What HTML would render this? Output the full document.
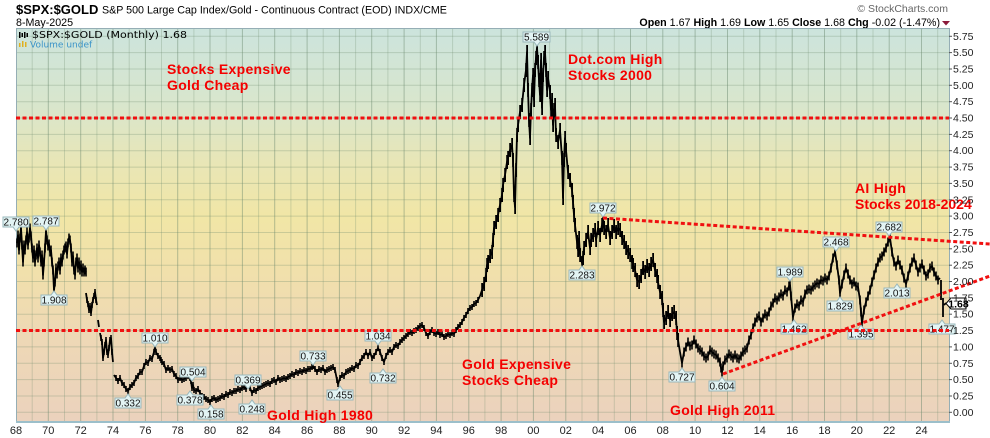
<!DOCTYPE html>
<html>
<head>
<meta charset="utf-8">
<style>
html,body{margin:0;padding:0;background:#fff;}
svg{display:block;}
</style>
</head>
<body>
<svg width="990" height="438" viewBox="0 0 990 438" xmlns="http://www.w3.org/2000/svg">
<defs>
<linearGradient id="bg" x1="0" y1="28" x2="0" y2="422" gradientUnits="userSpaceOnUse">
<stop offset="0" stop-color="#cce4dd"/>
<stop offset="0.2" stop-color="#d9e6cc"/>
<stop offset="0.35" stop-color="#e9e6b5"/>
<stop offset="0.48" stop-color="#f1e6a6"/>
<stop offset="0.62" stop-color="#f1e0ab"/>
<stop offset="0.78" stop-color="#eed8b5"/>
<stop offset="1" stop-color="#ebd2bd"/>
</linearGradient>
<marker id="bs" markerUnits="userSpaceOnUse" markerWidth="2" markerHeight="6" refX="0.8" refY="3" orient="0"><rect x="0" y="0" width="1.6" height="6" fill="#000"/></marker>
<marker id="bm" markerUnits="userSpaceOnUse" markerWidth="2" markerHeight="9" refX="0.8" refY="4.5" orient="0"><rect x="0" y="0" width="1.6" height="9" fill="#000"/></marker>
<marker id="bb" markerUnits="userSpaceOnUse" markerWidth="2" markerHeight="14" refX="0.8" refY="7" orient="0"><rect x="0" y="0" width="1.8" height="14" fill="#000"/></marker>
</defs>
<rect width="990" height="438" fill="#fff"/>

<!-- header -->
<text x="16" y="14" font-family="Liberation Sans, sans-serif" font-weight="bold" font-size="13" fill="#000">$SPX:$GOLD</text>
<text x="102" y="13.5" font-family="Liberation Sans, sans-serif" font-size="10.7" fill="#000">S&amp;P 500 Large Cap Index/Gold - Continuous Contract (EOD) INDX/CME</text>
<text x="16" y="26" font-family="Liberation Sans, sans-serif" font-size="10.7" fill="#000">8-May-2025</text>
<text x="948" y="12" text-anchor="end" font-family="Liberation Sans, sans-serif" font-size="10.5" fill="#666">© StockCharts.com</text>
<text x="940" y="26" text-anchor="end" font-family="Liberation Sans, sans-serif" font-size="10.7" fill="#000"><tspan font-weight="bold">Open</tspan> 1.67  <tspan font-weight="bold">High</tspan> 1.69  <tspan font-weight="bold">Low</tspan> 1.65  <tspan font-weight="bold">Close</tspan> 1.68  <tspan font-weight="bold">Chg</tspan> -0.02 (-1.47%)</text>
<polygon points="942,21 950,21 946,25.5" fill="#8b1a3a"/>

<!-- plot background -->
<rect x="16" y="28" width="933" height="394" fill="url(#bg)"/>

<!-- vertical grid -->
<g stroke="rgba(110,140,110,0.28)" stroke-width="1">
<line x1="32.2" y1="28" x2="32.2" y2="422"/><line x1="64.5" y1="28" x2="64.5" y2="422"/><line x1="96.9" y1="28" x2="96.9" y2="422"/><line x1="129.2" y1="28" x2="129.2" y2="422"/><line x1="161.5" y1="28" x2="161.5" y2="422"/><line x1="193.9" y1="28" x2="193.9" y2="422"/><line x1="226.2" y1="28" x2="226.2" y2="422"/><line x1="258.6" y1="28" x2="258.6" y2="422"/><line x1="290.9" y1="28" x2="290.9" y2="422"/><line x1="323.2" y1="28" x2="323.2" y2="422"/><line x1="355.6" y1="28" x2="355.6" y2="422"/><line x1="387.9" y1="28" x2="387.9" y2="422"/><line x1="420.3" y1="28" x2="420.3" y2="422"/><line x1="452.6" y1="28" x2="452.6" y2="422"/><line x1="484.9" y1="28" x2="484.9" y2="422"/><line x1="517.3" y1="28" x2="517.3" y2="422"/><line x1="549.6" y1="28" x2="549.6" y2="422"/><line x1="582" y1="28" x2="582" y2="422"/><line x1="614.3" y1="28" x2="614.3" y2="422"/><line x1="646.6" y1="28" x2="646.6" y2="422"/><line x1="679" y1="28" x2="679" y2="422"/><line x1="711.3" y1="28" x2="711.3" y2="422"/><line x1="743.7" y1="28" x2="743.7" y2="422"/><line x1="776" y1="28" x2="776" y2="422"/><line x1="808.3" y1="28" x2="808.3" y2="422"/><line x1="840.7" y1="28" x2="840.7" y2="422"/><line x1="873" y1="28" x2="873" y2="422"/><line x1="905.4" y1="28" x2="905.4" y2="422"/><line x1="937.7" y1="28" x2="937.7" y2="422"/>
</g>
<g stroke="rgba(100,130,105,0.45)" stroke-width="1">
<line x1="48.3" y1="28" x2="48.3" y2="422"/><line x1="80.7" y1="28" x2="80.7" y2="422"/><line x1="113" y1="28" x2="113" y2="422"/><line x1="145.4" y1="28" x2="145.4" y2="422"/><line x1="177.7" y1="28" x2="177.7" y2="422"/><line x1="210" y1="28" x2="210" y2="422"/><line x1="242.4" y1="28" x2="242.4" y2="422"/><line x1="274.7" y1="28" x2="274.7" y2="422"/><line x1="307.1" y1="28" x2="307.1" y2="422"/><line x1="339.4" y1="28" x2="339.4" y2="422"/><line x1="371.7" y1="28" x2="371.7" y2="422"/><line x1="404.1" y1="28" x2="404.1" y2="422"/><line x1="436.4" y1="28" x2="436.4" y2="422"/><line x1="468.8" y1="28" x2="468.8" y2="422"/><line x1="501.1" y1="28" x2="501.1" y2="422"/><line x1="533.4" y1="28" x2="533.4" y2="422"/><line x1="565.8" y1="28" x2="565.8" y2="422"/><line x1="598.1" y1="28" x2="598.1" y2="422"/><line x1="630.5" y1="28" x2="630.5" y2="422"/><line x1="662.8" y1="28" x2="662.8" y2="422"/><line x1="695.1" y1="28" x2="695.1" y2="422"/><line x1="727.5" y1="28" x2="727.5" y2="422"/><line x1="759.8" y1="28" x2="759.8" y2="422"/><line x1="792.2" y1="28" x2="792.2" y2="422"/><line x1="824.5" y1="28" x2="824.5" y2="422"/><line x1="856.8" y1="28" x2="856.8" y2="422"/><line x1="889.2" y1="28" x2="889.2" y2="422"/><line x1="921.5" y1="28" x2="921.5" y2="422"/>
</g>
<!-- horizontal grid -->
<g stroke="rgba(110,140,110,0.30)" stroke-width="1">
<line x1="16" y1="412.3" x2="949" y2="412.3"/><line x1="16" y1="396" x2="949" y2="396"/><line x1="16" y1="379.6" x2="949" y2="379.6"/><line x1="16" y1="363.3" x2="949" y2="363.3"/><line x1="16" y1="346.9" x2="949" y2="346.9"/><line x1="16" y1="330.6" x2="949" y2="330.6"/><line x1="16" y1="314.2" x2="949" y2="314.2"/><line x1="16" y1="297.9" x2="949" y2="297.9"/><line x1="16" y1="281.5" x2="949" y2="281.5"/><line x1="16" y1="265.2" x2="949" y2="265.2"/><line x1="16" y1="248.8" x2="949" y2="248.8"/><line x1="16" y1="232.5" x2="949" y2="232.5"/><line x1="16" y1="216.1" x2="949" y2="216.1"/><line x1="16" y1="199.8" x2="949" y2="199.8"/><line x1="16" y1="183.4" x2="949" y2="183.4"/><line x1="16" y1="167.1" x2="949" y2="167.1"/><line x1="16" y1="150.7" x2="949" y2="150.7"/><line x1="16" y1="134.4" x2="949" y2="134.4"/><line x1="16" y1="118" x2="949" y2="118"/><line x1="16" y1="101.7" x2="949" y2="101.7"/><line x1="16" y1="85.3" x2="949" y2="85.3"/><line x1="16" y1="69" x2="949" y2="69"/><line x1="16" y1="52.6" x2="949" y2="52.6"/><line x1="16" y1="36.3" x2="949" y2="36.3"/>
</g>

<!-- frame -->
<line x1="16" y1="28.5" x2="949" y2="28.5" stroke="#95aeb5" stroke-width="1"/>
<line x1="16.5" y1="28" x2="16.5" y2="422" stroke="#95aeb5" stroke-width="1"/>
<line x1="949.5" y1="28" x2="949.5" y2="422" stroke="#95aeb5" stroke-width="1"/>
<line x1="16" y1="422" x2="950" y2="422" stroke="#9cbfca" stroke-width="2"/>

<!-- legend -->
<g fill="#000">
<rect x="19" y="32" width="1.5" height="6"/><rect x="21.5" y="33" width="1.5" height="4"/><rect x="24" y="32" width="1.5" height="6"/><rect x="26.5" y="33" width="1.5" height="4"/>
</g>
<text x="32" y="38" font-family="DejaVu Sans, sans-serif" font-size="10" fill="#000" textLength="155" lengthAdjust="spacingAndGlyphs">$SPX:$GOLD (Monthly) 1.68</text>
<g fill="#e0b020">
<rect x="19" y="43" width="1.5" height="4"/><rect x="22" y="41" width="1.5" height="6"/><rect x="25" y="42" width="1.5" height="5"/>
</g>
<text x="30" y="47.5" font-family="DejaVu Sans, sans-serif" font-size="9" fill="#3a93c8">Volume undef</text>

<!-- series -->
<g fill="none" stroke="#000" stroke-width="1.8" stroke-linejoin="round" stroke-linecap="butt">
<polyline marker-mid="url(#bm)" marker-start="url(#bm)" marker-end="url(#bm)" points="17,243 18,235 19,250 20,238 21,228 22,245 23,262 24,245 25,250 26,240 27,232 28,245 29,238 30,228 31,236 32,248 33,258 34,250 35,262 36,255 37,248 38,258 39,245 40,252 41,262 42,255 43,275 44,262 45,248 46,231 47,240 48,246 49,244 50,252 51,250 52,262 53,270 54,290 55,282 56,268 57,274 58,266 59,262 60,270 61,258 62,262 63,255 64,250 65,248 66,246 67,254 68,243 69,238 70,240 71,248 72,262 73,256 74,270 75,275 76,262 77,258 78,268 79,262 80,270 81,265 82,272 83,268 84,272 85,270 86,272"/>
<polyline marker-mid="url(#bs)" points="86,293 87,300 88,304 89,310 90,306 91,313 92,305 93,300 94,296 95,292 96,300 97,305"/>
<polyline points="98,320 99,327"/>
<polyline marker-mid="url(#bs)" points="100,333 101,338 102,342 103,358 104,352 105,345 106,340 107,352 108,355 109,348 110,340 111,338 112,352 113,362"/>
<polyline marker-mid="url(#bs)" points="114,375 116,378 118,381 120,378 122,383 124,385 126,389 128,391 130,387 132,385 134,383 136,378 138,376 140,372 142,372 144,366 146,362 148,363 150,358 152,359 154,352 155,347 156,352 158,356 160,358 161,360 162,362 164,364 166,370 168,368 170,370 172,369 174,374 176,376 178,380 180,378 182,380 184,379 186,378 188,376 190,378 191,381 192,388 193,385 194,390 196,391 198,389 200,393 202,396 204,397 206,399 208,400 210,402 212,399 214,398 216,400 218,399 220,398 222,396 224,397 226,394 228,395 230,392 232,393 234,391 236,391 238,389 240,390 242,388 244,387 246,389 248,385 250,388 252,393 254,390 256,391 258,388 260,387 262,386 264,385 266,384 268,383 270,384 272,381 274,380 276,382 278,378 280,380 282,379 284,378 286,379 288,377 290,376 292,374 294,375 296,372 298,373 300,371 302,372 304,370 306,371 308,369 310,369 312,367 313,366 315,369 317,372 319,369 321,370 323,368 325,372 327,370 329,369 331,368 333,367 335,370 337,380 338,384 340,378 342,375 344,376 346,372 348,371 350,370 352,368 354,369 356,365 358,366 360,362 362,358 364,356 366,352 368,356 370,352 372,358 374,356 376,352 378,348 380,352 382,358 384,362 386,356 388,352 390,350 392,352 394,347 396,345 398,346 400,342 402,340 404,338 406,336 408,334 410,332 412,333 414,331 416,330 418,328 420,326 422,325 424,328 426,333 428,336 430,332 432,330 434,333 436,334 438,332 440,335 442,334 444,337 446,336 448,334 450,335 452,333 454,334 456,330 458,327 460,325 462,322 464,318 466,315 468,311 470,308 472,307 474,304 476,303 478,300 480,296"/>
<polyline marker-mid="url(#bb)" points="480,296 482,290 484,284 486,275 487,265 488,262 490,256 492,252 493,240 494,228 496,222 498,215 500,205 502,195 503,185 505,175 507,162 508,158 510,150 512,145 513,160 514,195 515,207 516,170 517,135 518,125 520,112 522,105 524,85 526,70 527,52 528,90 529,120 530,138 531,110 532,90 533,75 534,100 535,70 536,58 537,48 538,62 539,80 540,95 541,60 542,108 543,75 544,58 545,52 546,70 547,90 548,78 550,92 551,110 552,100 553,125 554,110 555,105 556,135 558,142 560,130 562,158 563,198 564,160 565,138 566,150 568,172 570,180 572,190 573,202 574,215 575,225 577,242 578,250 579,238 580,255 582,263 583,258 584,248 586,240 588,232 590,248 591,240 593,235 595,230 596,240 598,228 600,235 602,225 603,218 604,228 606,232 608,225 610,238 612,232 614,226 616,232 618,228 620,230 622,238 624,242 626,248 628,252 630,255 632,262 633,265 635,270 637,280 639,282 641,276 643,268 645,272 647,266 649,270 651,264 653,260 655,270 657,276 658,282 660,292 662,298 663,310 664,322 666,318 668,312 670,320 672,314 674,312 676,318 677,333 678,340 680,352"/>
<polyline marker-mid="url(#bm)" points="680,352 682,363 684,352 686,347 688,342 690,346 692,345 694,340 696,344 698,348 700,350 702,352 704,356 706,358 708,356 710,350 712,352 714,354 716,355 718,358 720,362 721,368 722,372 723,366 725,360 727,358 729,354 731,356 733,358 735,355 737,358 739,359 741,356 743,352 745,350 747,348 749,340 751,335 753,328 755,322 757,318 759,316 761,322 763,318 765,314 767,316 769,312 771,306 773,303 775,298 777,300 779,297 781,294 783,296 785,290 787,292 789,286 790,285 791,296 793,317 795,308 797,304 799,306 801,300 803,302 805,294 807,290 809,289 811,290 813,287 815,285 817,283 819,284 821,280 823,281 825,278 827,280 829,276 831,268 833,258 835,252 837,265 839,280 840,293 842,284 844,275 846,268 848,274 850,280 852,284 854,282 856,286 858,287 860,300 861,312 862,323 864,310 866,302 868,296 870,290 872,282 874,275 876,268 878,262 880,258 882,256 884,252 886,248 888,242 890,238 892,252 894,262 896,266 898,260 900,265 902,270 904,278 906,284 908,276 910,268 912,262 914,258 916,265 918,272 920,268 922,264 924,270 926,276 928,274 930,268 932,266 934,272 936,276 938,280 940,278"/>
<polyline points="941,280 941,300"/>
<polyline points="943,298 943,317"/>
<polyline points="944,305 946,303"/>
</g>

<!-- value callouts -->
<g fill="#e3f4f4" stroke="#9ab8bc" stroke-width="1">
<path d="M3,217 h26 v10 H19 l-3,4 l-3,-4 H3 Z"/>
<path d="M33,216 h26 v10 H49 l-3,4 l-3,-4 H33 Z"/>
<path d="M41,295 H51 l3,-4 l3,4 H67 v10 H41 Z"/>
<path d="M142,333 h26 v10 H158 l-3,4 l-3,-4 H142 Z"/>
<path d="M115,398 H125 l3,-4 l3,4 H141 v10 H115 Z"/>
<path d="M180,367 h26 v10 H195 l-3,4 l-3,-4 H180 Z"/>
<path d="M177,395 H187 l3,-4 l3,4 H203 v10 H177 Z"/>
<path d="M198,409 H208 l3,-4 l3,4 H224 v10 H198 Z"/>
<path d="M235,375 h26 v10 H251 l-3,4 l-3,-4 H235 Z"/>
<path d="M239,404 H249 l3,-4 l3,4 H265 v10 H239 Z"/>
<path d="M300,351 h26 v10 H316 l-3,4 l-3,-4 H300 Z"/>
<path d="M327,390 H337 l3,-4 l3,4 H353 v10 H327 Z"/>
<path d="M365,331 h26 v10 H381 l-3,4 l-3,-4 H365 Z"/>
<path d="M370,373 H380 l3,-4 l3,4 H396 v10 H370 Z"/>
<path d="M523,32 h27 v10 H540 l-3,4 l-3,-4 H523 Z"/>
<path d="M590,203 h26 v10 H606 l-3,4 l-3,-4 H590 Z"/>
<path d="M569,270 H579 l3,-4 l3,4 H595 v10 H569 Z"/>
<path d="M669,372 H679 l3,-4 l3,4 H695 v10 H669 Z"/>
<path d="M709,381 H719 l3,-4 l3,4 H735 v10 H709 Z"/>
<path d="M777,267 h26 v10 H793 l-3,4 l-3,-4 H777 Z"/>
<path d="M781,324 H791 l3,-4 l3,4 H807 v10 H781 Z"/>
<path d="M823,237 h26 v10 H839 l-3,4 l-3,-4 H823 Z"/>
<path d="M827,301 H837 l3,-4 l3,4 H853 v10 H827 Z"/>
<path d="M848,329 H858 l3,-4 l3,4 H874 v10 H848 Z"/>
<path d="M876,222 h26 v10 H892 l-3,4 l-3,-4 H876 Z"/>
<path d="M884,288 H894 l3,-4 l3,4 H910 v10 H884 Z"/>
<path d="M929,324 H939 l3,-4 l3,4 H955 v10 H929 Z"/>
</g>
<g font-family="Liberation Sans, sans-serif" font-size="10" fill="#111" text-anchor="middle">
<text x="16" y="225.5">2.780</text>
<text x="46" y="224.5">2.787</text>
<text x="54" y="303.5">1.908</text>
<text x="155" y="341.5">1.010</text>
<text x="128" y="406.5">0.332</text>
<text x="193" y="375.5">0.504</text>
<text x="190" y="403.5">0.378</text>
<text x="211" y="417.5">0.158</text>
<text x="248" y="383.5">0.369</text>
<text x="252" y="412.5">0.248</text>
<text x="313" y="359.5">0.733</text>
<text x="340" y="398.5">0.455</text>
<text x="378" y="339.5">1.034</text>
<text x="383" y="381.5">0.732</text>
<text x="536.5" y="40.5">5.589</text>
<text x="603" y="211.5">2.972</text>
<text x="582" y="278.5">2.283</text>
<text x="682" y="380.5">0.727</text>
<text x="722" y="389.5">0.604</text>
<text x="790" y="275.5">1.989</text>
<text x="794" y="332.5">1.462</text>
<text x="836" y="245.5">2.468</text>
<text x="840" y="309.5">1.829</text>
<text x="861" y="337.5">1.395</text>
<text x="889" y="230.5">2.682</text>
<text x="897" y="296.5">2.013</text>
<text x="942" y="332.5">1.477</text>
</g>

<!-- red dotted lines -->
<g stroke="#f01010" stroke-width="3" stroke-dasharray="4 2.5" fill="none">
<line x1="16" y1="118" x2="949" y2="118"/>
<line x1="16" y1="330.5" x2="949" y2="330.5"/>
<line x1="603" y1="218" x2="990" y2="244"/>
<line x1="723" y1="374" x2="990" y2="276"/>
</g>

<!-- current price tag -->
<path d="M946,303.5 L951,298 H966 V309 H951 Z" fill="#fff" stroke="#000" stroke-width="1"/>
<text x="958.5" y="307.5" text-anchor="middle" font-family="Liberation Sans, sans-serif" font-weight="bold" font-size="10.5" fill="#000">1.68</text>

<!-- red annotations -->
<g font-family="Liberation Sans, sans-serif" font-weight="bold" font-size="14" fill="#f50000" letter-spacing="0.3">
<text x="167" y="74">Stocks Expensive</text>
<text x="167" y="90">Gold Cheap</text>
<text x="568" y="64">Dot.com High</text>
<text x="568" y="80">Stocks 2000</text>
<text x="855" y="193">AI High</text>
<text x="855" y="209" letter-spacing="0">Stocks 2018-2024</text>
<text x="462" y="369">Gold Expensive</text>
<text x="462" y="385">Stocks Cheap</text>
<text x="670" y="415">Gold High 2011</text>
<text x="267" y="420">Gold High 1980</text>
</g>

<!-- right axis -->
<g stroke="#555" stroke-width="1">
<line x1="949" y1="36.3" x2="952" y2="36.3"/><line x1="949" y1="52.6" x2="952" y2="52.6"/><line x1="949" y1="69" x2="952" y2="69"/><line x1="949" y1="85.3" x2="952" y2="85.3"/><line x1="949" y1="101.7" x2="952" y2="101.7"/><line x1="949" y1="118" x2="952" y2="118"/><line x1="949" y1="134.4" x2="952" y2="134.4"/><line x1="949" y1="150.7" x2="952" y2="150.7"/><line x1="949" y1="167.1" x2="952" y2="167.1"/><line x1="949" y1="183.4" x2="952" y2="183.4"/><line x1="949" y1="199.8" x2="952" y2="199.8"/><line x1="949" y1="216.1" x2="952" y2="216.1"/><line x1="949" y1="232.5" x2="952" y2="232.5"/><line x1="949" y1="248.8" x2="952" y2="248.8"/><line x1="949" y1="265.2" x2="952" y2="265.2"/><line x1="949" y1="281.5" x2="952" y2="281.5"/><line x1="949" y1="297.9" x2="952" y2="297.9"/><line x1="949" y1="314.2" x2="952" y2="314.2"/><line x1="949" y1="330.6" x2="952" y2="330.6"/><line x1="949" y1="346.9" x2="952" y2="346.9"/><line x1="949" y1="363.3" x2="952" y2="363.3"/><line x1="949" y1="379.6" x2="952" y2="379.6"/><line x1="949" y1="396" x2="952" y2="396"/><line x1="949" y1="412.3" x2="952" y2="412.3"/>
</g>
<g font-family="Liberation Sans, sans-serif" font-size="10.5" fill="#222">
<text x="953" y="39.8">5.75</text><text x="953" y="56.1">5.50</text><text x="953" y="72.5">5.25</text><text x="953" y="88.8">5.00</text><text x="953" y="105.2">4.75</text><text x="953" y="121.5">4.50</text><text x="953" y="137.9">4.25</text><text x="953" y="154.2">4.00</text><text x="953" y="170.6">3.75</text><text x="953" y="186.9">3.50</text><text x="953" y="203.3">3.25</text><text x="953" y="219.6">3.00</text><text x="953" y="236">2.75</text><text x="953" y="252.3">2.50</text><text x="953" y="268.7">2.25</text><text x="953" y="285">2.00</text><text x="953" y="301.4">1.75</text><text x="953" y="317.7">1.50</text><text x="953" y="334.1">1.25</text><text x="953" y="350.4">1.00</text><text x="953" y="366.8">0.75</text><text x="953" y="383.1">0.50</text><text x="953" y="399.5">0.25</text><text x="953" y="415.8">0.00</text>
</g>

<!-- x axis labels -->
<g font-family="Liberation Sans, sans-serif" font-size="11" fill="#222" text-anchor="middle">
<text x="16" y="434">68</text><text x="48.3" y="434">70</text><text x="80.7" y="434">72</text><text x="113" y="434">74</text><text x="145.4" y="434">76</text><text x="177.7" y="434">78</text><text x="210" y="434">80</text><text x="242.4" y="434">82</text><text x="274.7" y="434">84</text><text x="307.1" y="434">86</text><text x="339.4" y="434">88</text><text x="371.7" y="434">90</text><text x="404.1" y="434">92</text><text x="436.4" y="434">94</text><text x="468.8" y="434">96</text><text x="501.1" y="434">98</text><text x="533.4" y="434">00</text><text x="565.8" y="434">02</text><text x="598.1" y="434">04</text><text x="630.5" y="434">06</text><text x="662.8" y="434">08</text><text x="695.1" y="434">10</text><text x="727.5" y="434">12</text><text x="759.8" y="434">14</text><text x="792.2" y="434">16</text><text x="824.5" y="434">18</text><text x="856.8" y="434">20</text><text x="889.2" y="434">22</text><text x="921.5" y="434">24</text>
</g>
</svg>
</body>
</html>
